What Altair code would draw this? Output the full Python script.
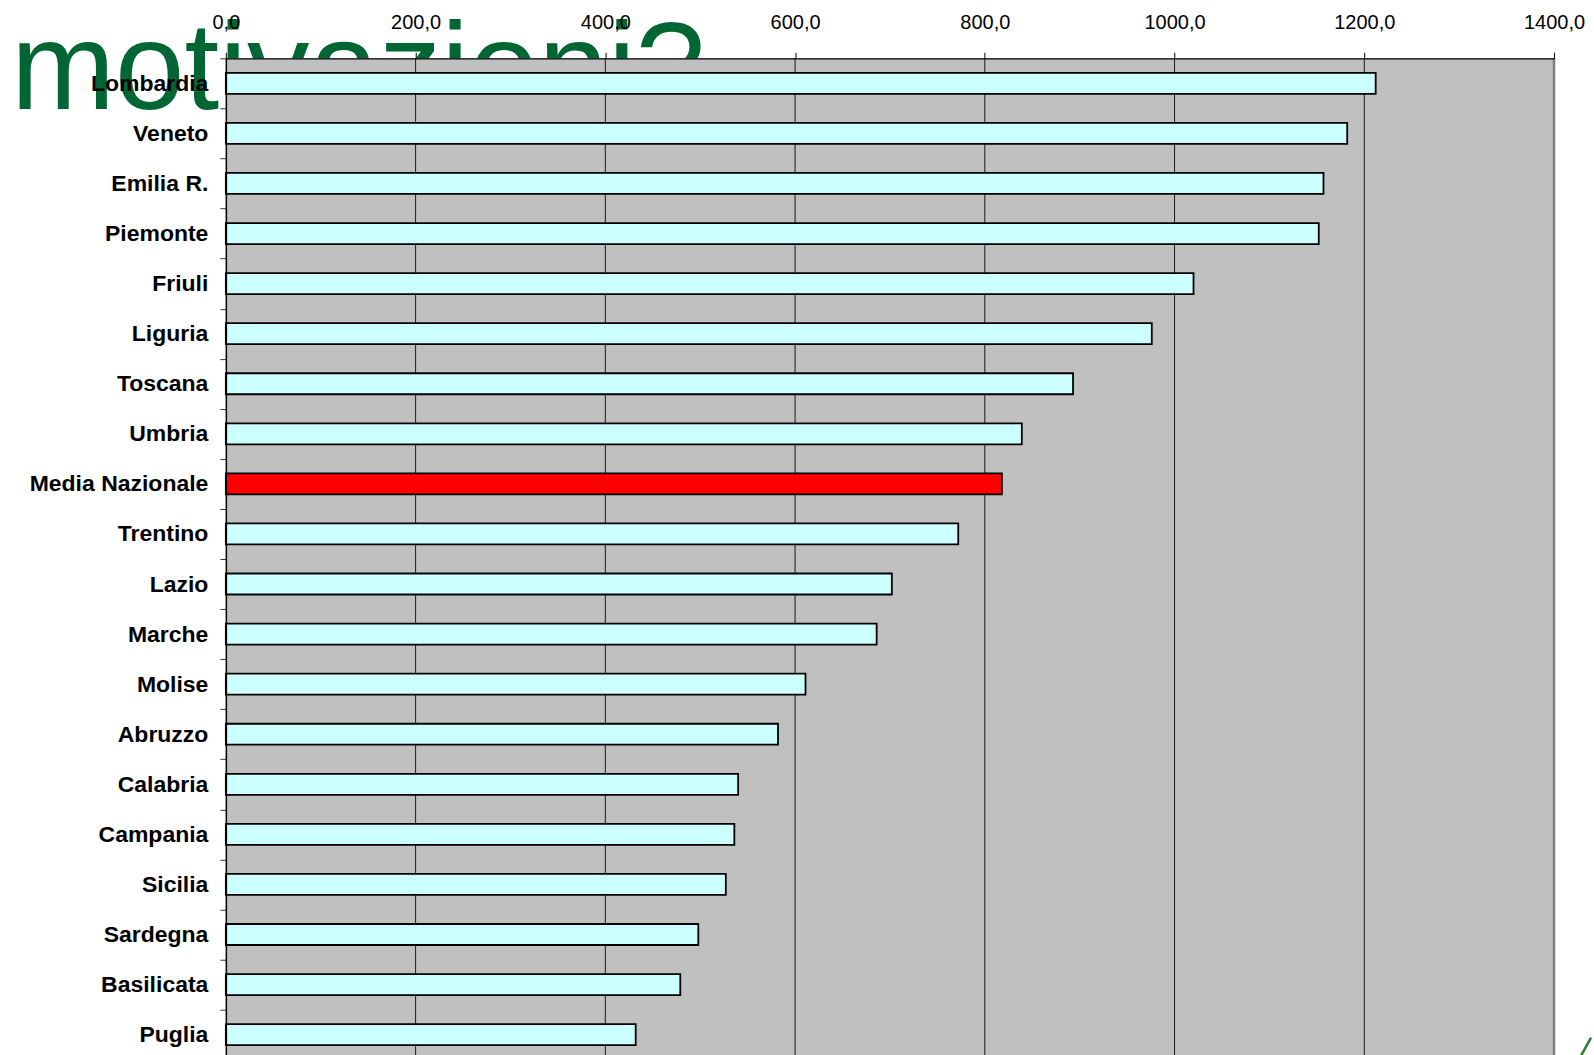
import altair as alt
import pandas as pd

# Regions ordered from highest to lowest value
regions = [
    "Lombardia", "Veneto", "Emilia R.", "Piemonte", "Friuli", "Liguria",
    "Toscana", "Umbria", "Media Nazionale", "Trentino", "Lazio", "Marche",
    "Molise", "Abruzzo", "Calabria", "Campania", "Sicilia", "Sardegna",
    "Basilicata", "Puglia",
]
values = [
    1212, 1182, 1157, 1152, 1020, 976,
    893, 839, 818, 772, 702, 686,
    611, 582, 540, 536, 527, 498,
    479, 432,
]
x_ticks = [0, 200, 400, 600, 800, 1000, 1200, 1400]
headline = "motivazioni?"

PLOT_W = 1329
PLOT_H = 1002
X_MAX = 1400
GREEN = "#006633"

bars_df = pd.DataFrame({
    "regione": regions,
    "valore": values,
    "media": [r == "Media Nazionale" for r in regions],
})
grid_df = pd.DataFrame({"v": x_ticks[1:-1]})

x_scale = alt.Scale(domain=[0, X_MAX], nice=False, zero=True)

# Large green headline sitting behind the plot area
title_layer = alt.Chart(pd.DataFrame({"t": [headline]})).mark_text(
    font="Liberation Sans", fontSize=125, color=GREEN,
    align="left", baseline="alphabetic",
).encode(
    x=alt.value(-215),
    y=alt.value(51),
    text="t:N",
)

# Grey plot background
background = alt.Chart(pd.DataFrame({"a": [0]})).mark_rect(
    color="#C0C0C0"
).encode(
    x=alt.datum(0, scale=x_scale),
    x2=alt.datum(X_MAX),
    y=alt.value(0),
    y2=alt.value(PLOT_H),
)

gridlines = alt.Chart(grid_df).mark_rule(color="#1a1a1a", strokeWidth=1).encode(
    x=alt.X("v:Q", scale=x_scale),
    y=alt.value(0),
    y2=alt.value(PLOT_H),
)

right_border = alt.Chart(pd.DataFrame({"v": [X_MAX]})).mark_rule(
    color="#808080", strokeWidth=2.5
).encode(
    x=alt.X("v:Q", scale=x_scale),
    y=alt.value(0),
    y2=alt.value(PLOT_H),
)

# Small green logo stroke in the lower right corner
logo_stroke = alt.Chart(pd.DataFrame({"a": [0]})).mark_rule(
    color="#2E7D32", strokeWidth=2.5
).encode(
    x=alt.value(1355),
    x2=alt.value(1366),
    y=alt.value(1000),
    y2=alt.value(980),
)

bars = alt.Chart(bars_df).mark_bar(
    size=21, stroke="black", strokeWidth=1.8
).encode(
    x=alt.X(
        "valore:Q",
        scale=x_scale,
        axis=alt.Axis(
            orient="top", values=x_ticks, grid=False, title=None,
            labelExpr="replace(format(datum.value, '.1f'), '.', ',')",
            labelFont="Liberation Sans", labelFontSize=20, labelColor="black",
            labelPadding=20, labelFlush=False, tickSize=6, tickColor="black",
            domainColor="black", domainWidth=1.2, zindex=1,
        ),
    ),
    y=alt.Y(
        "regione:N",
        sort=regions,
        scale=alt.Scale(paddingInner=0, paddingOuter=0),
        axis=alt.Axis(
            title=None, labelFont="Liberation Sans", labelFontWeight="bold",
            labelFontSize=23, labelColor="black", labelPadding=12,
            tickSize=6, tickColor="#333333", tickBand="extent",
            domainColor="black", domainWidth=1.5, zindex=1,
        ),
    ),
    color=alt.Color(
        "media:N",
        scale=alt.Scale(domain=[False, True], range=["#CCFFFF", "#FF0000"]),
        legend=None,
    ),
)

chart = alt.layer(
    title_layer, background, gridlines, right_border, logo_stroke, bars
).properties(
    width=PLOT_W,
    height=PLOT_H,
    autosize=alt.AutoSizeParams(type="none"),
    padding={"left": 226, "top": 58, "right": 40, "bottom": 0},
    background="white",
).configure_view(stroke=None)

chart.save("out.html", embed_options={"renderer": "svg", "actions": False})
